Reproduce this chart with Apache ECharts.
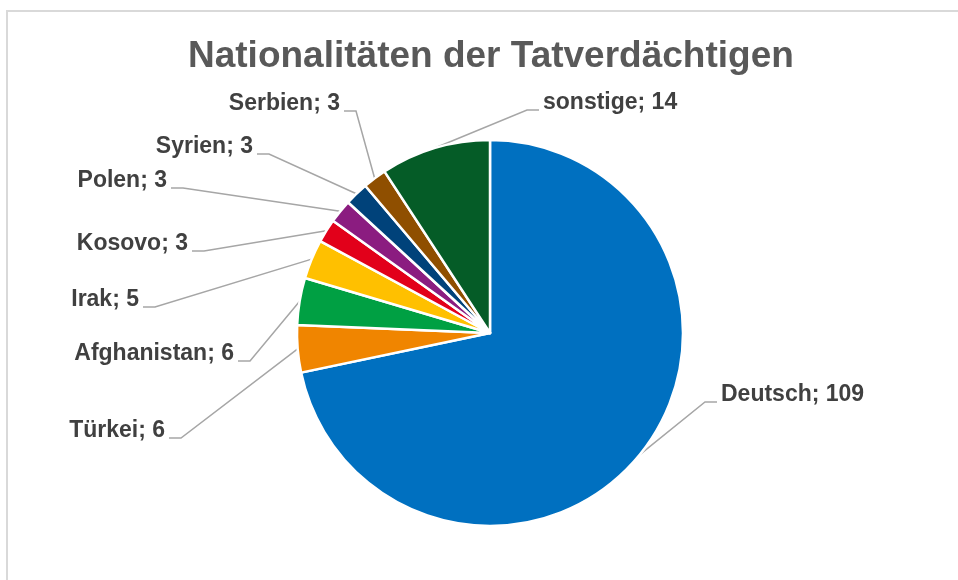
<!DOCTYPE html>
<html>
<head>
<meta charset="utf-8">
<script src="https://cdn.jsdelivr.net/npm/echarts@6/dist/echarts.min.js"></script>
<style>
  html, body { margin: 0; padding: 0; background: #fff; }
  #chart { width: 958px; height: 580px; }
</style>
</head>
<body>
<div id="chart"></div>
<script>
// data
const categories = ['Deutsch', 'Türkei', 'Afghanistan', 'Irak', 'Kosovo', 'Polen', 'Syrien', 'Serbien', 'sonstige']
const values = [109, 6, 6, 5, 3, 3, 3, 3, 14]
const colors = ['#0070C0', '#F08500', '#00A043', '#FFC000', '#E2001A', '#8B1C80', '#00427A', '#8F4F00', '#055C27']

// where each label text sits (x = text edge next to the leader line, y = text middle)
const labelAnchor = [
  { x: 721, y: 395, align: 'left' },
  { x: 165, y: 431, align: 'right' },
  { x: 234, y: 354, align: 'right' },
  { x: 139, y: 300, align: 'right' },
  { x: 188, y: 244, align: 'right' },
  { x: 167, y: 181, align: 'right' },
  { x: 253, y: 147, align: 'right' },
  { x: 340, y: 104, align: 'right' },
  { x: 543, y: 103, align: 'left' }
]

const chart = echarts.init(document.getElementById('chart'))

chart.setOption({
  animation: false,
  title: {
    text: 'Nationalitäten der Tatverdächtigen',
    left: 183,
    top: 33,
    textStyle: {
      fontFamily: 'Liberation Sans, Arial, sans-serif',
      fontSize: 37,
      fontWeight: 'bold',
      color: '#595959'
    }
  },
  graphic: [{
    type: 'rect',
    z: -1,
    shape: { x: 7, y: 11, width: 1000, height: 700 },
    style: { fill: 'none', stroke: '#d9d9d9', lineWidth: 2 }
  }],
  series: [{
    type: 'pie',
    center: [490, 333],
    radius: 193,
    startAngle: 90,
    clockwise: true,
    avoidLabelOverlap: false,
    itemStyle: {
      borderColor: '#fff',
      borderWidth: 2.5
    },
    label: {
      show: true,
      formatter: '{b}; {c}',
      fontFamily: 'Liberation Sans, Arial, sans-serif',
      fontSize: 23,
      fontWeight: 'bold',
      color: '#404040'
    },
    labelLine: {
      show: true,
      length: 20,
      length2: 10,
      lineStyle: { color: '#a6a6a6', width: 1.5 }
    },
    labelLayout: function (params) {
      const a = labelAnchor[params.dataIndex]
      const start = params.labelLinePoints ? params.labelLinePoints[0] : null
      const toLeft = a.align === 'right'
      const yb = a.y + 7
      const xe = toLeft ? a.x + 4 : a.x - 4
      const xc = toLeft ? xe + 12 : xe - 12
      const out = { x: a.x, y: a.y, align: a.align, verticalAlign: 'middle' }
      if (start) out.labelLinePoints = [start, [xc, yb], [xe, yb]]
      return out
    },
    data: categories.map((name, i) => ({
      name: name,
      value: values[i],
      itemStyle: { color: colors[i] }
    }))
  }]
})
</script>
</body>
</html>
